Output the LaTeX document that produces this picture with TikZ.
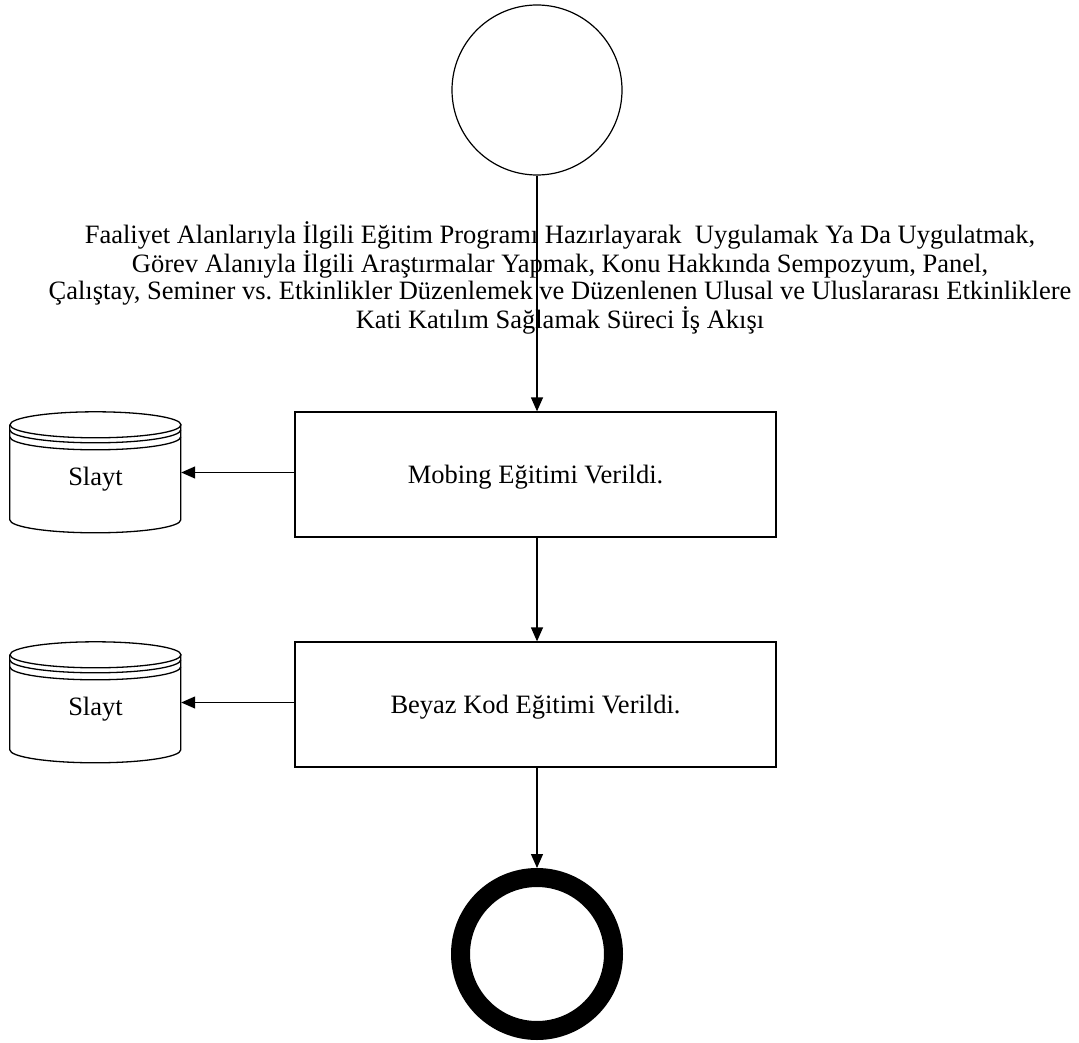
\documentclass[tikz,border=0pt]{standalone}
\usepackage{fontspec}
\setmainfont{Liberation Serif}
\usetikzlibrary{arrows.meta}
\frenchspacing
\begin{document}
\begin{tikzpicture}[x=1pt, y=-1pt,
startnode/.style={circle, draw=black, line width=1.2pt, inner sep=0pt, minimum size=170pt},
endnode/.style={circle, draw=black, line width=19pt, inner sep=0pt, minimum size=153pt},
task/.style={rectangle, draw=black, line width=1.3pt, minimum width=481pt, minimum height=125pt, text height=24pt, text depth=5.5pt, font=\fontsize{26.5}{30}\selectfont},
store/.style={rectangle, minimum width=171pt, minimum height=121pt, text height=32pt, text depth=5.5pt, font=\fontsize{26.5}{30}\selectfont},
flow/.style={line width=1.3pt, -{Triangle[length=14pt, width=12pt]}},
]
\useasboundingbox (0,0) rectangle (1079,1043);
\node[startnode] (start) at (537,90) {};
\node (title) at (560,278) [align=center, font=\fontsize{26.5}{27.5}\selectfont]
    {Faaliyet Alanlarıyla İlgili Eğitim Programı Hazırlayarak \ Uygulamak Ya Da Uygulatmak,\\
     Görev Alanıyla İlgili Araştırmalar Yapmak, Konu Hakkında Sempozyum, Panel,\\
     Çalıştay, Seminer vs. Etkinlikler Düzenlemek ve Düzenlenen Ulusal ve Uluslararası Etkinliklere\\
     Kati Katılım Sağlamak Süreci İş Akışı};
\node[task] (mobing) at (535.5,474.5) {Mobing Eğitimi Verildi.};
\node[task] (beyaz) at (535.5,704.5) {Beyaz Kod Eğitimi Verildi.};
\node[endnode] (end) at (537,954) {};
\node[store] (slayt1) at (95.5,472.5) {Slayt};
\node[store] (slayt2) at (95.5,702.5) {Slayt};
\foreach \s in {slayt1, slayt2} {
  \draw[line width=1.3pt] (\s.north west) ++(0,13) -- ++(0,95)
      arc[start angle=180, end angle=360, x radius=85.5pt, y radius=13pt] -- ++(0,-95);
  \draw[line width=1.3pt] (\s.north) ++(0,13) ellipse [x radius=85.5pt, y radius=13pt];
  \draw[line width=1.3pt] (\s.north west) ++(0,18)
      arc[start angle=180, end angle=360, x radius=85.5pt, y radius=13pt];
  \draw[line width=1.3pt] (\s.north west) ++(0,25)
      arc[start angle=180, end angle=360, x radius=85.5pt, y radius=13pt];
}
\draw[flow] (start.south) -- (start.south |- mobing.north);
\draw[flow] (start.south |- mobing.south) -- (start.south |- beyaz.north);
\draw[flow] (start.south |- beyaz.south) -- (end.north);
\draw[flow] (mobing.west |- slayt1.east) -- (slayt1.east);
\draw[flow] (beyaz.west |- slayt2.east) -- (slayt2.east);
\end{tikzpicture}
\end{document}
